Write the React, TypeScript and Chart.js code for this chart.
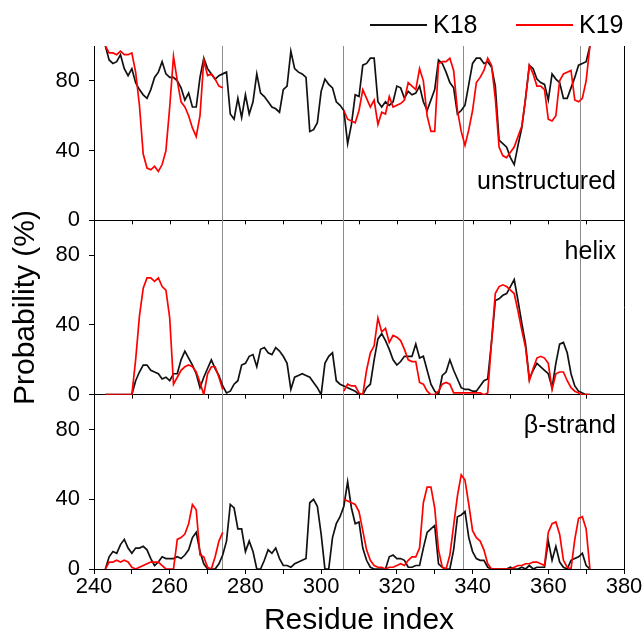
import React, { useEffect, useRef } from "react";
import { Chart, registerables } from "chart.js";

Chart.register(...registerables);

const FONT = "'Liberation Sans', Arial, sans-serif";

// residue index of the first value in every series
const firstResidue = 243;

// unstructured probability (%)
const k18Unstructured = [
  100, 92, 90, 91, 95, 87, 83, 87, 79, 75,
  72, 70, 75, 82, 85, 91, 84, 82, 82, 80,
  76, 69, 73, 65, 65, 82, 93, 87, 84, 81,
  83, 84, 85, 61, 58, 70, 59, 72, 61, 68,
  84, 73, 71, 68, 65, 64, 62, 75, 77, 97,
  87, 85, 84, 82, 51, 52, 56, 74, 81, 78,
  76, 68, 66, 63, 44, 55, 72, 71, 89, 90,
  93, 93, 68, 65, 68, 66, 68, 77, 76, 70,
  74, 72, 73, 77, 68, 63, 69, 75, 92, 90,
  85, 79, 76, 61, 63, 66, 78, 90, 93, 93,
  90, 91, 88, 77, 46, 44, 42, 36, 32, 43,
  53, 70, 89, 87, 81, 79, 78, 69, 84, 81,
  79, 70, 70, 76, 82, 89, 90, 91, 100,
];
const k19Unstructured = [
  100, 96, 96, 95, 97, 95, 95, 96, 85, 66,
  38, 30, 29, 31, 28, 32, 40, 65, 94, 80,
  68, 65, 60, 53, 48, 60, 92, 83, 84, 81,
  77, 76,
  null, null, null, null, null, null, null, null, null, null,
  null, null, null, null, null, null, null, null, null, null,
  null, null, null, null, null, null, null, null, null, null, null,
  63, 58, 57, 56, 63, 75, 70, 65, 69, 55,
  62, 61, 71, 65, 66, 67, 69, 79, 77, 75,
  87, 80, 60, 51, 51, 90, 91, 91, 93, 86,
  63, 51, 43, 52, 63, 79, 82, 86, 93, 89,
  70, 42, 37, 36, 39, 42, 48, 54, 70, 89,
  84, 77, 77, 75, 58, 57, 60, 80, 84, 85,
  86, 69, 68, 70, 80, 100,
];

// helix probability (%)
const k18Helix = [
  0, 0, 0, 0, 0, 0, 0, 0, 8, 13,
  17, 17, 14, 13, 12, 9, 10, 8, 12, 12,
  20, 25, 21, 17, 12, 4, 10, 15, 20, 15,
  11, 5, 1, 2, 6, 8, 17, 18, 22, 23,
  16, 26, 27, 24, 23, 27, 25, 22, 18, 3,
  10, 11, 12, 11, 10, 7, 4, 0, 18, 22,
  24, 8, 6, 5, 4, 3, 2, 0, 0, 4,
  6, 20, 32, 35, 31, 26, 20, 17, 19, 22,
  22, 22, 29, 21, 22, 14, 6, 2, 0, 11,
  13, 20, 14, 9, 4, 3, 3, 2, 2, 5,
  8, 9, 30, 54, 55, 57, 58, 62, 66, 54,
  41, 29, 9, 14, 18, 16, 14, 12, 4, 18,
  29, 30, 24, 12, 5, 2, 1, 0, 0,
];
const k19Helix = [
  0, 0, 0, 0, 0, 0, 0, 0, 20, 45,
  61, 67, 67, 65, 67, 62, 60, 44, 6, 10,
  14, 16, 17, 16, 13, 7, 0, 12, 16, 16,
  10, 3,
  null, null, null, null, null, null, null, null, null, null,
  null, null, null, null, null, null, null, null, null, null,
  null, null, null, null, null, null, null, null, null, null, null,
  2, 6, 5, 5, 1, 0, 14, 24, 28, 44,
  36, 38, 30, 34, 33, 31, 26, 20, 19, 19,
  7, 6, 2, 0, 0, 2, 6, 7, 6, 1,
  1, 1, 1, 1, 1, 1, 1, 0, 1, 30,
  58, 62, 63, 62, 60, 58, 48, 37, 27, 8,
  15, 21, 22, 21, 18, 3, 12, 13, 13, 8,
  4, 2, 1, 0, 0, 0,
];

// beta-strand probability (%)
const k18Strand = [
  0, 7, 10, 9, 14, 17, 12, 9, 12, 12,
  13, 11, 6, 2, 4, 7, 6, 6, 6, 7,
  6, 8, 11, 18, 21, 10, 3, 0, 0, 0,
  3, 8, 16, 37, 35, 23, 23, 10, 16, 10,
  0, 0, 5, 11, 9, 12, 6, 2, 2, 1,
  3, 4, 5, 6, 38, 40, 36, 20, 0, 0,
  18, 26, 30, 36, 50, 35, 26, 27, 12, 5,
  1, 0, 0, 0, 0, 7, 8, 6, 6, 5,
  1, 1, 2, 2, 12, 21, 23, 25, 3, 1,
  0, 0, 11, 30, 31, 33, 18, 10, 6, 5,
  5, 1, 0, 0, 0, 0, 0, 1, 0, 0,
  1, 0, 2, 0, 1, 1, 1, 16, 5, 13,
  4, 1, 0, 5, 6, 7, 9, 2, 0,
];
const k19Strand = [
  0, 4, 4, 5, 4, 5, 4, 1, 0, 1,
  2, 3, 4, 4, 4, 2, 0, 0, 0, 17,
  18, 20, 26, 37, 34, 8, 7, 1, 0, 7,
  16, 21,
  null, null, null, null, null, null, null, null, null, null,
  null, null, null, null, null, null, null, null, null, null,
  null, null, null, null, null, null, null, null, null, null, null,
  40, 39, 38, 37, 33, 22, 11, 5, 2, 1,
  1, 0, 1, 1, 2, 3, 2, 5, 7, 7,
  12, 38, 47, 47, 35, 11, 1, 0, 8, 25,
  42, 54, 51, 37, 22, 18, 16, 11, 3, 0,
  0, 0, 0, 0, 0, 1, 2, 2, 3, 3,
  4, 4, 3, 2, 21, 26, 27, 20, 5, 1,
  0, 17, 29, 30, 23, 0,
];

// vertical separator residues
const boundaries = [273.8, 305.9, 337.5, 368.4];

const seriesNames = ["K18", "K19"];
const panelNames = ["unstructured", "helix", "\u03b2-strand"];
const xTitle = "Residue index";
const yTitle = "Probability (%)";

const toPoints = (arr: (number | null)[]) =>
  arr.map((v, i) => ({ x: firstResidue + i, y: v }));

const BLACK = "#111111";
const RED = "#ff0000";

const overlayPlugin = {
  id: "overlay",
  beforeDatasetsDraw(chart: any) {
    const { ctx, chartArea } = chart;
    const xs = chart.scales.x;
    ctx.save();
    ctx.strokeStyle = "#8c8c8c";
    ctx.lineWidth = 1;
    boundaries.forEach((b) => {
      const px = Math.round(xs.getPixelForValue(b)) + 0.5;
      ctx.beginPath();
      ctx.moveTo(px, chartArea.top);
      ctx.lineTo(px, chartArea.bottom);
      ctx.stroke();
    });
    // inward ticks at the top of the lower panels
    ctx.strokeStyle = "#000";
    ["yh", "yb"].forEach((id) => {
      const top = chart.scales[id].top;
      xs.ticks.forEach((t: any) => {
        if (t.value <= 240 || t.value >= 380) return;
        const px = Math.round(xs.getPixelForValue(t.value)) + 0.5;
        ctx.beginPath();
        ctx.moveTo(px, top);
        ctx.lineTo(px, top + 4);
        ctx.stroke();
      });
    });
    ctx.restore();
  },
  afterDraw(chart: any) {
    const { ctx, chartArea } = chart;
    ctx.save();
    // panel labels
    ctx.fillStyle = "#000";
    ctx.font = `25px ${FONT}`;
    ctx.textAlign = "right";
    ctx.textBaseline = "alphabetic";
    const ids = ["yu", "yh", "yb"];
    const levels = [18, 78, 78];
    ids.forEach((id, i) => {
      const py = chart.scales[id].getPixelForValue(levels[i]);
      ctx.fillText(panelNames[i], chartArea.right - 8, py);
    });
    // legend
    const colors = [BLACK, RED];
    const starts = [370, 516];
    ctx.textAlign = "left";
    ctx.textBaseline = "middle";
    seriesNames.forEach((name, i) => {
      ctx.strokeStyle = colors[i];
      ctx.lineWidth = 2;
      ctx.beginPath();
      ctx.moveTo(starts[i], 25);
      ctx.lineTo(starts[i] + 57, 25);
      ctx.stroke();
      ctx.fillStyle = "#000";
      ctx.fillText(name, starts[i] + 63, 26);
    });
    ctx.restore();
  },
};

function yScale(title: boolean) {
  return {
    type: "linear",
    position: "left",
    stack: "panels",
    stackWeight: 1,
    min: 0,
    max: 100,
    ticks: {
      stepSize: 20,
      color: "#000",
      padding: 9,
      font: { size: 22, family: FONT },
      callback: (v: any) => (v % 40 === 0 && v !== 100 ? String(v) : ""),
    },
    grid: {
      color: (c: any) =>
        c.tick && (c.tick.value === 0 || c.tick.value === 100) ? "#000" : "rgba(0,0,0,0)",
      tickColor: "#000",
      tickLength: 5,
    },
    border: { color: "#000", width: 1 },
    title: {
      display: title,
      text: yTitle,
      color: "#000",
      font: { size: 30, family: FONT },
      padding: { top: 8, bottom: 0 },
    },
    afterFit: (s: any) => {
      s.width = 94;
    },
  };
}

export default function App() {
  const ref = useRef<HTMLCanvasElement | null>(null);
  useEffect(() => {
    if (!ref.current) return;
    const line = (data: any, color: string, axis: string, order: number, label: string) => ({
      label,
      data,
      yAxisID: axis,
      borderColor: color,
      backgroundColor: color,
      borderWidth: 1.7,
      pointRadius: 0,
      tension: 0,
      spanGaps: false,
      order,
    });
    const chart = new Chart(ref.current, {
      type: "line",
      data: {
        datasets: [
          line(toPoints(k18Unstructured), BLACK, "yu", 1, "K18"),
          line(toPoints(k19Unstructured), RED, "yu", 0, "K19"),
          line(toPoints(k18Helix), BLACK, "yh", 1, "K18"),
          line(toPoints(k19Helix), RED, "yh", 0, "K19"),
          line(toPoints(k18Strand), BLACK, "yb", 1, "K18"),
          line(toPoints(k19Strand), RED, "yb", 0, "K19"),
        ],
      },
      options: {
        animation: false,
        responsive: false,
        devicePixelRatio: 1,
        layout: { padding: { top: 46, right: 20, left: 0, bottom: 0 } },
        plugins: { legend: { display: false }, tooltip: { enabled: false } },
        scales: {
          x: {
            type: "linear",
            position: "bottom",
            min: 240,
            max: 380,
            ticks: {
              stepSize: 10,
              autoSkip: false,
              maxRotation: 0,
              color: "#000",
              padding: 0,
              font: { size: 22, family: FONT },
              callback: (v: any) => (v % 20 === 0 ? String(v) : ""),
            },
            grid: {
              color: (c: any) => (c.tick && c.tick.value === 380 ? "#000" : "rgba(0,0,0,0)"),
              tickColor: "#000",
              tickLength: 5,
            },
            border: { color: "#000", width: 1 },
            title: {
              display: true,
              text: xTitle,
              color: "#000",
              font: { size: 30, family: FONT, lineHeight: 1.0 },
              padding: 0,
            },
            afterFit: (s: any) => {
              s.height = 67;
            },
          },
          yb: yScale(false),
          yh: yScale(true),
          yu: yScale(false),
        } as any,
      },
      plugins: [overlayPlugin],
    } as any);
    return () => chart.destroy();
  }, []);
  return (
    <div style={{ position: "fixed", left: 0, top: 0, width: 644, height: 636, background: "#fff" }}>
      <canvas ref={ref} width={644} height={636} style={{ display: "block" }} />
    </div>
  );
}
